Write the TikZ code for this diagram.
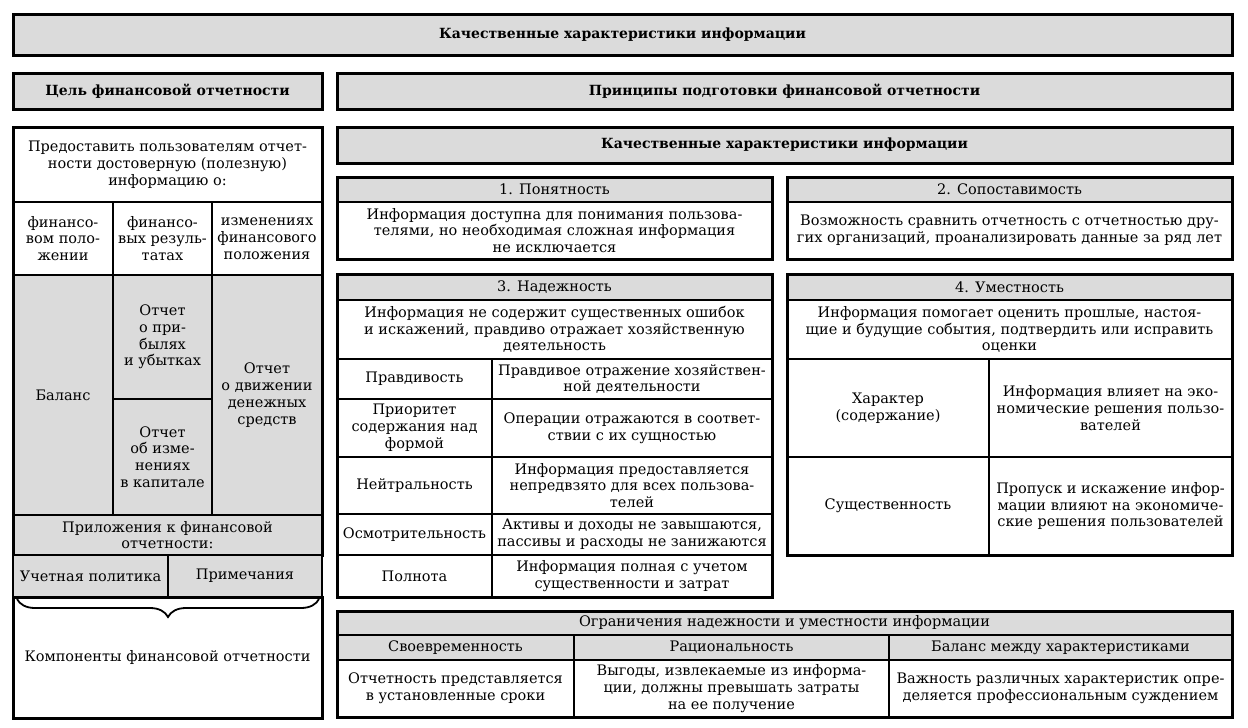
\documentclass[tikz,border=0pt]{standalone}
\usepackage{fontspec}
\setmainfont{DejaVu Serif}
\usepackage{tikz}
\usetikzlibrary{positioning,decorations.pathreplacing}
\definecolor{cellgray}{RGB}{219,219,219}
\tikzset{
  cell/.style={draw=black, line width=1.2pt, inner sep=0pt, outer sep=0pt, align=center,
    font=\fontsize{14.5}{16.8}\selectfont},
  headcell/.style={cell, fill=cellgray, font=\fontsize{14}{16.8}\selectfont\bfseries},
  outerline/.style={draw=black, line width=3pt},
}
\begin{document}
\begin{tikzpicture}[x=1pt, y=-1pt]
    \useasboundingbox (0,0) rectangle (1248,728);

    % Headers
    \node[headcell, minimum width=1219, minimum height=41] (topBanner) at (622.5,34.5) {Качественные характеристики информации};
    \node[headcell, minimum width=309, minimum height=36] (goalHead) at (167.5,91) {Цель финансовой отчетности};
    \node[headcell, minimum width=895, minimum height=36] (princHead) at (784.5,91) {Принципы подготовки финансовой отчетности};
    \node[headcell, minimum width=895, minimum height=36] (qualHead) at (784.5,145) {Качественные характеристики информации};
    \foreach \n in {topBanner, goalHead, princHead, qualHead} {
        \draw[outerline] (\n.north west) rectangle (\n.south east);
    }

    % Goal of financial statements
    \node[cell, minimum width=309, minimum height=75] (goalText) at (167.5,164.5) {Предоставить пользователям отчет-\\ности достоверную (полезную)\\информацию о:};
    \node[cell, minimum width=100, minimum height=73] (infoA) at (63,238.5) {финансо-\\вом поло-\\жении};
    \node[cell, minimum width=99, minimum height=73] (infoB) at (162.5,238.5) {финансо-\\вых резуль-\\татах};
    \node[cell, minimum width=110, minimum height=73] (infoC) at (267,238.5) {изменениях\\финансового\\положения};
    \node[cell, fill=cellgray, minimum width=100, minimum height=240] (balance) at (63,395) {Баланс};
    \node[cell, fill=cellgray, minimum width=99, minimum height=124] (profitLoss) at (162.5,337) {Отчет\\о при-\\былях\\и убытках};
    \node[cell, fill=cellgray, minimum width=99, minimum height=116] (equityChg) at (162.5,457) {Отчет\\об изме-\\нениях\\в капитале};
    \node[cell, fill=cellgray, minimum width=110, minimum height=240] (cashFlow) at (267,395) {Отчет\\о движении\\денежных\\средств};
    \node[cell, fill=cellgray, minimum width=309, minimum height=40] (appendix) at (167.5,535) {Приложения к финансовой\\отчетности:};
    \draw[outerline] (goalText.north west) rectangle (appendix.south east);
    \node[cell, fill=cellgray, minimum width=155, minimum height=42] (policy) at (90.5,576) {Учетная политика};
    \node[cell, fill=cellgray, minimum width=154, minimum height=42] (notes) at (245,576) {Примечания};
    \node[cell, minimum width=309, minimum height=121] (components) at (167.5,657.5) {Компоненты финансовой отчетности};
    \draw[outerline] (components.north west) rectangle (components.south east);
    \coordinate (braceR) at (319,599);
    \coordinate (braceL) at (17,599);
    \draw[line width=1.8pt, decorate, decoration={brace, amplitude=18pt}] (braceR) -- (braceL);

    % 1. Understandability, 2. Comparability
    \node[cell, fill=cellgray, minimum width=435, minimum height=25] (undHead) at (554.5,189.5) {1. Понятность};
    \node[cell, minimum width=435, minimum height=57] (undText) at (554.5,230.5) {Информация доступна для понимания пользова-\\телями, но необходимая сложная информация\\не исключается};
    \draw[outerline] (undHead.north west) rectangle (undText.south east);
    \node[cell, fill=cellgray, minimum width=445, minimum height=25] (cmpHead) at (1009.5,189.5) {2. Сопоставимость};
    \node[cell, minimum width=445, minimum height=57] (cmpText) at (1009.5,230.5) {Возможность сравнить отчетность с отчетностью дру-\\гих организаций, проанализировать данные за ряд лет};
    \draw[outerline] (cmpHead.north west) rectangle (cmpText.south east);

    % 3. Reliability
    \node[cell, fill=cellgray, minimum width=435, minimum height=26] (relHead) at (554.5,287) {3. Надежность};
    \node[cell, minimum width=435, minimum height=59] (relText) at (554.5,329.5) {Информация не содержит существенных ошибок\\и искажений, правдиво отражает хозяйственную\\деятельность};
    \foreach \cy/\h/\name/\desc [count=\i] in {
        379/40/{Правдивость}/{Правдивое отражение хозяйствен-\\ной деятельности},
        428/58/{Приоритет\\содержания над\\формой}/{Операции отражаются в соответ-\\ствии с их сущностью},
        485.5/57/{Нейтральность}/{Информация предоставляется\\непредвзято для всех пользова-\\телей},
        534.5/41/{Осмотрительность}/{Активы и доходы не завышаются,\\пассивы и расходы не занижаются},
        576/42/{Полнота}/{Информация полная с учетом\\существенности и затрат}} {
        \node[cell, minimum width=155, minimum height=\h] (relName\i) at (414.5,\cy) {\name};
        \node[cell, minimum width=280, minimum height=\h] (relDesc\i) at (632,\cy) {\desc};
    }
    \draw[outerline] (relHead.north west) rectangle (relDesc5.south east);

    % 4. Relevance
    \node[cell, fill=cellgray, minimum width=445, minimum height=26] (rlvHead) at (1009.5,287) {4. Уместность};
    \node[cell, minimum width=445, minimum height=59] (rlvText) at (1009.5,329.5) {Информация помогает оценить прошлые, настоя-\\щие и будущие события, подтвердить или исправить\\оценки};
    \node[cell, minimum width=202, minimum height=98] (rlvName1) at (888,408) {Характер\\(содержание)};
    \node[cell, minimum width=243, minimum height=98] (rlvDesc1) at (1110.5,408) {Информация влияет на эко-\\номические решения пользо-\\вателей};
    \node[cell, minimum width=202, minimum height=98] (rlvName2) at (888,506) {Существенность};
    \node[cell, minimum width=243, minimum height=98] (rlvDesc2) at (1110.5,506) {Пропуск и искажение инфор-\\мации влияют на экономиче-\\ские решения пользователей};
    \draw[outerline] (rlvHead.north west) rectangle (rlvDesc2.south east);

    % Constraints
    \node[cell, fill=cellgray, minimum width=895, minimum height=24] (limHead) at (784.5,623) {Ограничения надежности и уместности информации};
    \node[cell, fill=cellgray, minimum width=237, minimum height=25] (limNameA) at (455.5,647.5) {Своевременность};
    \node[cell, fill=cellgray, minimum width=315, minimum height=25] (limNameB) at (731.5,647.5) {Рациональность};
    \node[cell, fill=cellgray, minimum width=343, minimum height=25] (limNameC) at (1060.5,647.5) {Баланс между характеристиками};
    \node[cell, minimum width=237, minimum height=57] (limDescA) at (455.5,688.5) {Отчетность представляется\\в установленные сроки};
    \node[cell, minimum width=315, minimum height=57] (limDescB) at (731.5,688.5) {Выгоды, извлекаемые из информа-\\ции, должны превышать затраты\\на ее получение};
    \node[cell, minimum width=343, minimum height=57] (limDescC) at (1060.5,688.5) {Важность различных характеристик опре-\\деляется профессиональным суждением};
    \draw[outerline] (limHead.north west) rectangle (limDescC.south east);
\end{tikzpicture}
\end{document}
